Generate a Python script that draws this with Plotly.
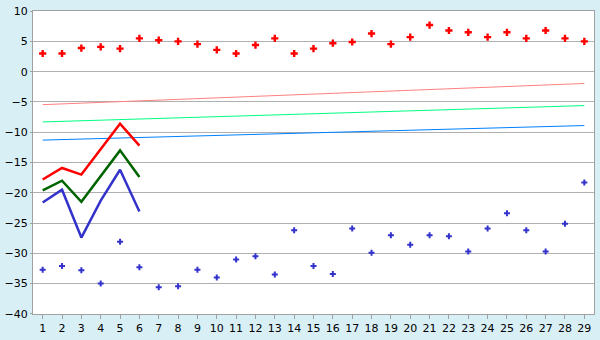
import plotly.graph_objects as go

x = list(range(1, 30))
red_pts = [3.0, 3.0, 3.9, 4.1, 3.8, 5.5, 5.2, 5.0, 4.55, 3.6, 3.0, 4.4, 5.5, 3.0, 3.8,
           4.7, 4.9, 6.3, 4.55, 5.7, 7.7, 6.8, 6.5, 5.7, 6.5, 5.5, 6.8, 5.5, 5.0]
blue_pts = [-32.7, -32.1, -32.8, -35.0, -28.1, -32.3, -35.6, -35.45, -32.7, -34.0, -31.0,
            -30.5, -33.5, -26.2, -32.1, -33.4, -25.9, -29.9, -27.0, -28.6, -27.0, -27.2,
            -29.7, -25.9, -23.4, -26.2, -29.7, -25.1, -18.3]
x6 = [1, 2, 3, 4, 5, 6]
red_line = [-17.8, -15.9, -17.0, -12.9, -8.6, -12.2]
green_line = [-19.6, -18.0, -21.5, -17.2, -13.0, -17.4]
blue_line = [-21.6, -19.5, -27.4, -21.3, -16.2, -23.1]
trend_x = [1, 29]
trend_red = [-5.45, -1.95]
trend_green = [-8.3, -5.6]
trend_blue = [-11.3, -8.9]
y_ticks = [10, 5, 0, -5, -10, -15, -20, -25, -30, -35, -40]

fig = go.Figure()
fig.add_trace(go.Scatter(x=trend_x, y=trend_red, mode="lines", line=dict(color="#ff8080", width=1)))
fig.add_trace(go.Scatter(x=trend_x, y=trend_green, mode="lines", line=dict(color="#00ff80", width=1)))
fig.add_trace(go.Scatter(x=trend_x, y=trend_blue, mode="lines", line=dict(color="#0080ff", width=1)))
fig.add_trace(go.Scatter(x=x6, y=red_line, mode="lines", line=dict(color="#ff0000", width=2.5)))
fig.add_trace(go.Scatter(x=x6, y=green_line, mode="lines", line=dict(color="#006400", width=2.5)))
fig.add_trace(go.Scatter(x=x6, y=blue_line, mode="lines", line=dict(color="#3333cc", width=2.5)))
fig.add_trace(go.Scatter(x=x, y=red_pts, mode="markers",
                         marker=dict(symbol="cross", size=6, color="#ff0000", line=dict(width=0))))
fig.add_trace(go.Scatter(x=x, y=blue_pts, mode="markers",
                         marker=dict(symbol="cross", size=5, color="#3333cc", line=dict(width=0))))

fig.update_layout(
    width=600, height=340,
    margin=dict(l=27, r=5, t=5, b=20),
    paper_bgcolor="#d9eff6",
    plot_bgcolor="#ffffff",
    showlegend=False,
    font=dict(family="DejaVu Sans", size=11, color="#000000"),
)
fig.update_xaxes(range=[0.5, 29.5], tickvals=x, ticks="outside", ticklen=4, tickcolor="#a0a0a0",
                 showgrid=False, zeroline=False, showline=True, linecolor="#a0a0a0", mirror=True,
                 linewidth=1, ticklabeloverflow="allow")
fig.update_yaxes(range=[-40.02, 10.02], tickvals=y_ticks, ticks="outside", ticklen=2,
                 tickcolor="#a0a0a0", showgrid=True, gridcolor="#b0b0b0", zeroline=False,
                 showline=True, linecolor="#a0a0a0", mirror=True, linewidth=1,
                 ticklabeloverflow="allow")

fig.write_html("out.html")
